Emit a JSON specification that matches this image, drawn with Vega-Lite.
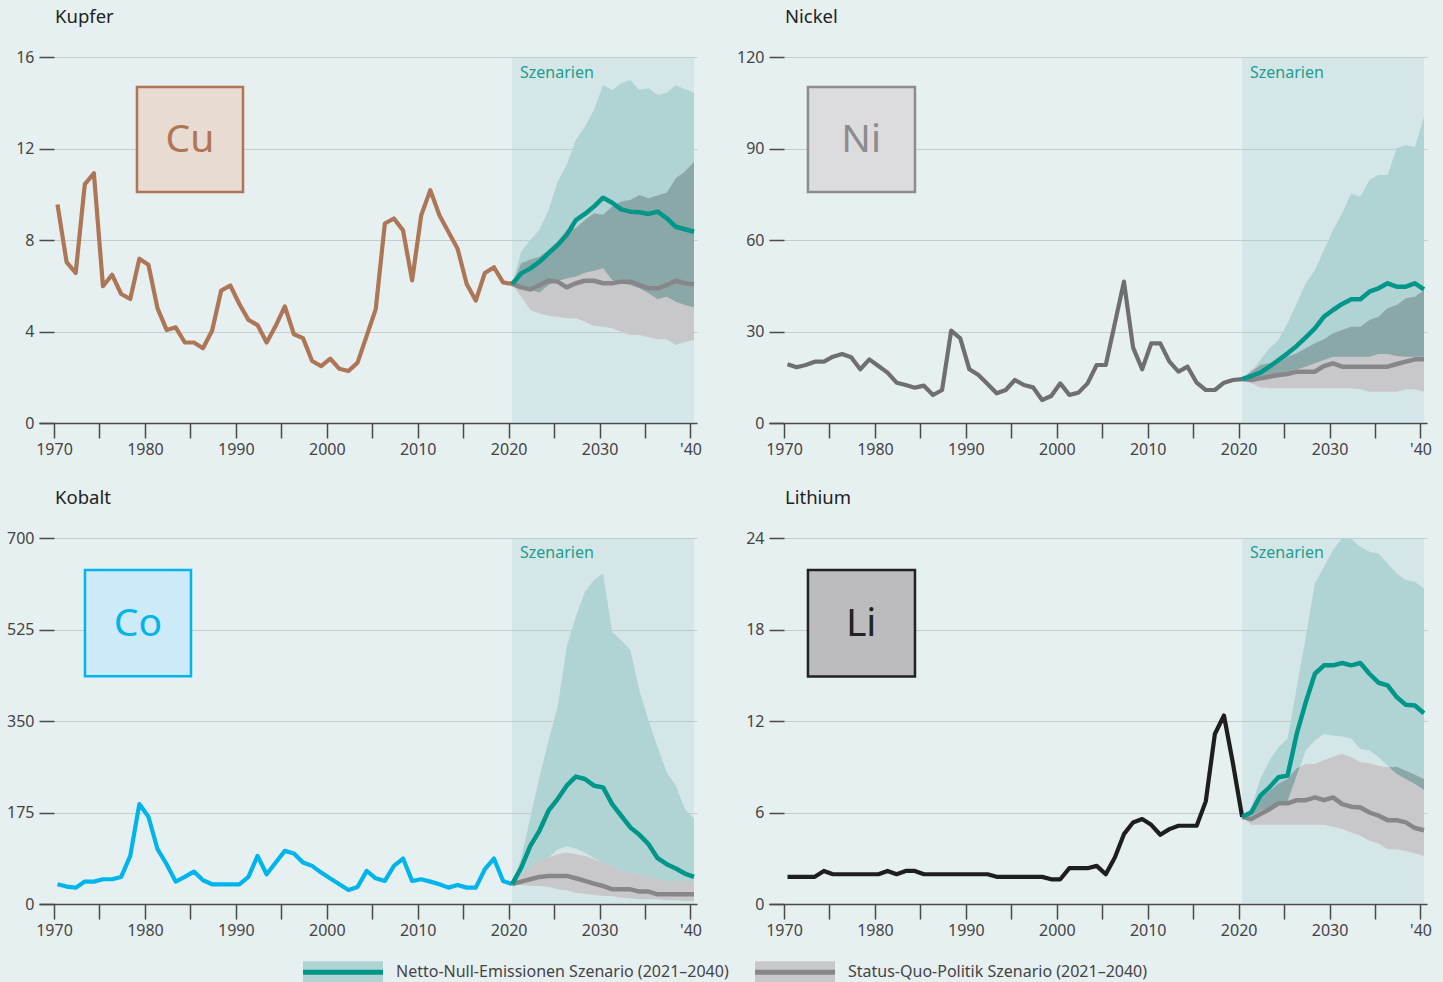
{
  "$schema": "https://vega.github.io/schema/vega-lite/v6.json",
  "background": "#e7f0f1",
  "padding": {"left": 6, "top": 7, "right": 13, "bottom": 0},
  "autosize": {"type": "pad"},
  "bounds": "flush",
  "spacing": {"row": 115, "column": 72},
  "columns": 2,
  "config": {
    "view": {"stroke": null},
    "font": "Noto Sans",
    "axis": {"labelFont": "Noto Sans", "labelFontSize": 16, "labelColor": "#444", "gridColor": "#c5cccd", "gridWidth": 1.2, "tickColor": "#4a4a4a", "tickWidth": 1.5, "domainColor": "#4a4a4a", "domainWidth": 1.5},
    "title": {"font": "Noto Sans", "fontSize": 18.5, "fontWeight": "normal", "color": "#222"},
    "legend": {"labelFont": "Noto Sans"},
    "text": {"font": "Noto Sans"}
  },
  "datasets": {
    "hist": [
      {"m":"Cu","t":1970,"v":9.55},{"m":"Cu","t":1971,"v":7.03},{"m":"Cu","t":1972,"v":6.56},{"m":"Cu","t":1973,"v":10.43},{"m":"Cu","t":1974,"v":10.92},{"m":"Cu","t":1975,"v":5.98},{"m":"Cu","t":1976,"v":6.48},{"m":"Cu","t":1977,"v":5.64},{"m":"Cu","t":1978,"v":5.42},{"m":"Cu","t":1979,"v":7.18},
      {"m":"Cu","t":1980,"v":6.92},{"m":"Cu","t":1981,"v":5.01},{"m":"Cu","t":1982,"v":4.07},{"m":"Cu","t":1983,"v":4.18},{"m":"Cu","t":1984,"v":3.52},{"m":"Cu","t":1985,"v":3.52},{"m":"Cu","t":1986,"v":3.27},{"m":"Cu","t":1987,"v":4.03},{"m":"Cu","t":1988,"v":5.79},{"m":"Cu","t":1989,"v":6.01},
      {"m":"Cu","t":1990,"v":5.2},{"m":"Cu","t":1991,"v":4.51},{"m":"Cu","t":1992,"v":4.28},{"m":"Cu","t":1993,"v":3.52},{"m":"Cu","t":1994,"v":4.25},{"m":"Cu","t":1995,"v":5.1},{"m":"Cu","t":1996,"v":3.88},{"m":"Cu","t":1997,"v":3.71},{"m":"Cu","t":1998,"v":2.71},{"m":"Cu","t":1999,"v":2.49},
      {"m":"Cu","t":2000,"v":2.81},{"m":"Cu","t":2001,"v":2.37},{"m":"Cu","t":2002,"v":2.27},{"m":"Cu","t":2003,"v":2.64},{"m":"Cu","t":2004,"v":3.81},{"m":"Cu","t":2005,"v":4.98},{"m":"Cu","t":2006,"v":8.72},{"m":"Cu","t":2007,"v":8.94},{"m":"Cu","t":2008,"v":8.42},{"m":"Cu","t":2009,"v":6.23},
      {"m":"Cu","t":2010,"v":9.08},{"m":"Cu","t":2011,"v":10.18},{"m":"Cu","t":2012,"v":9.08},{"m":"Cu","t":2013,"v":8.35},{"m":"Cu","t":2014,"v":7.62},{"m":"Cu","t":2015,"v":6.08},{"m":"Cu","t":2016,"v":5.35},{"m":"Cu","t":2017,"v":6.56},{"m":"Cu","t":2018,"v":6.81},{"m":"Cu","t":2019,"v":6.15},{"m":"Cu","t":2020,"v":6.08},
      {"m":"Ni","t":1970,"v":19.23},{"m":"Ni","t":1971,"v":18.25},{"m":"Ni","t":1972,"v":19.02},{"m":"Ni","t":1973,"v":20.11},{"m":"Ni","t":1974,"v":20.11},{"m":"Ni","t":1975,"v":21.75},{"m":"Ni","t":1976,"v":22.62},{"m":"Ni","t":1977,"v":21.53},{"m":"Ni","t":1978,"v":17.6},{"m":"Ni","t":1979,"v":20.87},
      {"m":"Ni","t":1980,"v":18.69},{"m":"Ni","t":1981,"v":16.5},{"m":"Ni","t":1982,"v":13.22},{"m":"Ni","t":1983,"v":12.46},{"m":"Ni","t":1984,"v":11.59},{"m":"Ni","t":1985,"v":12.24},{"m":"Ni","t":1986,"v":9.18},{"m":"Ni","t":1987,"v":10.82},{"m":"Ni","t":1988,"v":30.27},{"m":"Ni","t":1989,"v":27.76},
      {"m":"Ni","t":1990,"v":17.6},{"m":"Ni","t":1991,"v":15.74},{"m":"Ni","t":1992,"v":12.79},{"m":"Ni","t":1993,"v":9.73},{"m":"Ni","t":1994,"v":10.82},{"m":"Ni","t":1995,"v":14.1},{"m":"Ni","t":1996,"v":12.46},{"m":"Ni","t":1997,"v":11.69},{"m":"Ni","t":1998,"v":7.54},{"m":"Ni","t":1999,"v":8.85},
      {"m":"Ni","t":2000,"v":13.0},{"m":"Ni","t":2001,"v":9.18},{"m":"Ni","t":2002,"v":9.95},{"m":"Ni","t":2003,"v":13.0},{"m":"Ni","t":2004,"v":19.02},{"m":"Ni","t":2005,"v":19.02},{"m":"Ni","t":2006,"v":32.67},{"m":"Ni","t":2007,"v":46.34},{"m":"Ni","t":2008,"v":24.81},{"m":"Ni","t":2009,"v":17.6},
      {"m":"Ni","t":2010,"v":26.12},{"m":"Ni","t":2011,"v":26.12},{"m":"Ni","t":2012,"v":20.11},{"m":"Ni","t":2013,"v":16.83},{"m":"Ni","t":2014,"v":18.47},{"m":"Ni","t":2015,"v":13.22},{"m":"Ni","t":2016,"v":10.82},{"m":"Ni","t":2017,"v":10.82},{"m":"Ni","t":2018,"v":13.22},{"m":"Ni","t":2019,"v":14.1},{"m":"Ni","t":2020,"v":14.4},
      {"m":"Co","t":1970,"v":37.7},{"m":"Co","t":1971,"v":33.3},{"m":"Co","t":1972,"v":31.3},{"m":"Co","t":1973,"v":42.8},{"m":"Co","t":1974,"v":42.8},{"m":"Co","t":1975,"v":47.3},{"m":"Co","t":1976,"v":47.3},{"m":"Co","t":1977,"v":51.8},{"m":"Co","t":1978,"v":92.1},{"m":"Co","t":1979,"v":191.1},
      {"m":"Co","t":1980,"v":166.9},{"m":"Co","t":1981,"v":104.8},{"m":"Co","t":1982,"v":76.1},{"m":"Co","t":1983,"v":42.8},{"m":"Co","t":1984,"v":51.8},{"m":"Co","t":1985,"v":62.0},{"m":"Co","t":1986,"v":45.4},{"m":"Co","t":1987,"v":37.7},{"m":"Co","t":1988,"v":37.7},{"m":"Co","t":1989,"v":37.7},
      {"m":"Co","t":1990,"v":37.7},{"m":"Co","t":1991,"v":51.8},{"m":"Co","t":1992,"v":92.1},{"m":"Co","t":1993,"v":56.9},{"m":"Co","t":1994,"v":79.3},{"m":"Co","t":1995,"v":101.6},{"m":"Co","t":1996,"v":96.5},{"m":"Co","t":1997,"v":79.3},{"m":"Co","t":1998,"v":72.9},{"m":"Co","t":1999,"v":60.1},
      {"m":"Co","t":2000,"v":48.6},{"m":"Co","t":2001,"v":37.7},{"m":"Co","t":2002,"v":26.9},{"m":"Co","t":2003,"v":32.6},{"m":"Co","t":2004,"v":63.3},{"m":"Co","t":2005,"v":49.2},{"m":"Co","t":2006,"v":44.1},{"m":"Co","t":2007,"v":72.9},{"m":"Co","t":2008,"v":86.9},{"m":"Co","t":2009,"v":44.1},
      {"m":"Co","t":2010,"v":47.3},{"m":"Co","t":2011,"v":42.8},{"m":"Co","t":2012,"v":37.7},{"m":"Co","t":2013,"v":31.3},{"m":"Co","t":2014,"v":36.4},{"m":"Co","t":2015,"v":31.3},{"m":"Co","t":2016,"v":31.3},{"m":"Co","t":2017,"v":66.5},{"m":"Co","t":2018,"v":86.9},{"m":"Co","t":2019,"v":44.1},{"m":"Co","t":2020,"v":38.0},
      {"m":"Li","t":1970,"v":1.78},{"m":"Li","t":1971,"v":1.78},{"m":"Li","t":1972,"v":1.78},{"m":"Li","t":1973,"v":1.78},{"m":"Li","t":1974,"v":2.17},{"m":"Li","t":1975,"v":1.95},{"m":"Li","t":1976,"v":1.95},{"m":"Li","t":1977,"v":1.95},{"m":"Li","t":1978,"v":1.95},{"m":"Li","t":1979,"v":1.95},
      {"m":"Li","t":1980,"v":1.95},{"m":"Li","t":1981,"v":2.17},{"m":"Li","t":1982,"v":1.95},{"m":"Li","t":1983,"v":2.17},{"m":"Li","t":1984,"v":2.17},{"m":"Li","t":1985,"v":1.95},{"m":"Li","t":1986,"v":1.95},{"m":"Li","t":1987,"v":1.95},{"m":"Li","t":1988,"v":1.95},{"m":"Li","t":1989,"v":1.95},
      {"m":"Li","t":1990,"v":1.95},{"m":"Li","t":1991,"v":1.95},{"m":"Li","t":1992,"v":1.95},{"m":"Li","t":1993,"v":1.78},{"m":"Li","t":1994,"v":1.78},{"m":"Li","t":1995,"v":1.78},{"m":"Li","t":1996,"v":1.78},{"m":"Li","t":1997,"v":1.78},{"m":"Li","t":1998,"v":1.78},{"m":"Li","t":1999,"v":1.62},
      {"m":"Li","t":2000,"v":1.62},{"m":"Li","t":2001,"v":2.35},{"m":"Li","t":2002,"v":2.35},{"m":"Li","t":2003,"v":2.35},{"m":"Li","t":2004,"v":2.5},{"m":"Li","t":2005,"v":1.95},{"m":"Li","t":2006,"v":3.05},{"m":"Li","t":2007,"v":4.58},{"m":"Li","t":2008,"v":5.35},{"m":"Li","t":2009,"v":5.57},
      {"m":"Li","t":2010,"v":5.19},{"m":"Li","t":2011,"v":4.54},{"m":"Li","t":2012,"v":4.91},{"m":"Li","t":2013,"v":5.13},{"m":"Li","t":2014,"v":5.13},{"m":"Li","t":2015,"v":5.13},{"m":"Li","t":2016,"v":6.73},{"m":"Li","t":2017,"v":11.15},{"m":"Li","t":2018,"v":12.36},{"m":"Li","t":2019,"v":9.18},{"m":"Li","t":2020,"v":5.72}
    ],
    "scen": [
      {"m":"Cu","t":2020,"nzl":6.08,"nzh":6.08,"nzm":6.08,"sql":6.08,"sqh":6.08,"sqm":6.08},
      {"m":"Cu","t":2021,"nzl":5.9,"nzh":7.49,"nzm":6.54,"sql":5.52,"sqh":6.98,"sqm":5.93},
      {"m":"Cu","t":2022,"nzl":5.81,"nzh":8.0,"nzm":6.76,"sql":4.94,"sqh":7.15,"sqm":5.84},
      {"m":"Cu","t":2023,"nzl":5.7,"nzh":8.44,"nzm":7.04,"sql":4.79,"sqh":7.27,"sqm":6.03},
      {"m":"Cu","t":2024,"nzl":6.03,"nzh":9.31,"nzm":7.42,"sql":4.69,"sqh":7.56,"sqm":6.22},
      {"m":"Cu","t":2025,"nzl":6.22,"nzh":10.55,"nzm":7.78,"sql":4.65,"sqh":7.93,"sqm":6.18},
      {"m":"Cu","t":2026,"nzl":6.32,"nzh":11.28,"nzm":8.22,"sql":4.58,"sqh":8.44,"sqm":5.93},
      {"m":"Cu","t":2027,"nzl":6.4,"nzh":12.37,"nzm":8.87,"sql":4.58,"sqh":8.51,"sqm":6.11},
      {"m":"Cu","t":2028,"nzl":6.57,"nzh":12.95,"nzm":9.14,"sql":4.43,"sqh":8.87,"sqm":6.22},
      {"m":"Cu","t":2029,"nzl":6.66,"nzh":13.68,"nzm":9.46,"sql":4.24,"sqh":9.17,"sqm":6.22},
      {"m":"Cu","t":2030,"nzl":6.76,"nzh":14.78,"nzm":9.85,"sql":4.21,"sqh":9.1,"sqm":6.11},
      {"m":"Cu","t":2031,"nzl":6.25,"nzh":14.56,"nzm":9.63,"sql":4.14,"sqh":9.46,"sqm":6.11},
      {"m":"Cu","t":2032,"nzl":6.11,"nzh":14.85,"nzm":9.34,"sql":3.99,"sqh":9.68,"sqm":6.18},
      {"m":"Cu","t":2033,"nzl":6.03,"nzh":14.99,"nzm":9.24,"sql":3.85,"sqh":9.75,"sqm":6.18},
      {"m":"Cu","t":2034,"nzl":5.89,"nzh":14.56,"nzm":9.21,"sql":3.85,"sqh":9.97,"sqm":6.03},
      {"m":"Cu","t":2035,"nzl":5.67,"nzh":14.63,"nzm":9.14,"sql":3.75,"sqh":9.82,"sqm":5.89},
      {"m":"Cu","t":2036,"nzl":5.41,"nzh":14.34,"nzm":9.24,"sql":3.66,"sqh":9.94,"sqm":5.89},
      {"m":"Cu","t":2037,"nzl":5.52,"nzh":14.44,"nzm":8.95,"sql":3.66,"sqh":10.07,"sqm":6.03},
      {"m":"Cu","t":2038,"nzl":5.3,"nzh":14.78,"nzm":8.58,"sql":3.41,"sqh":10.7,"sqm":6.22},
      {"m":"Cu","t":2039,"nzl":5.16,"nzh":14.59,"nzm":8.47,"sql":3.54,"sqh":10.99,"sqm":6.11},
      {"m":"Cu","t":2040,"nzl":5.06,"nzh":14.44,"nzm":8.36,"sql":3.63,"sqh":11.42,"sqm":6.06},
      {"m":"Ni","t":2020,"nzl":14.4,"nzh":14.4,"nzm":14.4,"sql":14.4,"sqh":14.4,"sqm":14.4},
      {"m":"Ni","t":2021,"nzl":14.64,"nzh":16.83,"nzm":15.41,"sql":13.0,"sqh":17.38,"sqm":14.1},
      {"m":"Ni","t":2022,"nzl":14.32,"nzh":20.66,"nzm":16.5,"sql":11.69,"sqh":19.02,"sqm":14.64},
      {"m":"Ni","t":2023,"nzl":14.64,"nzh":24.48,"nzm":18.47,"sql":11.37,"sqh":19.56,"sqm":15.19},
      {"m":"Ni","t":2024,"nzl":15.74,"nzh":27.21,"nzm":20.66,"sql":11.37,"sqh":20.11,"sqm":15.74},
      {"m":"Ni","t":2025,"nzl":16.83,"nzh":32.68,"nzm":22.84,"sql":11.37,"sqh":21.75,"sqm":16.07},
      {"m":"Ni","t":2026,"nzl":17.6,"nzh":39.23,"nzm":25.25,"sql":11.37,"sqh":22.84,"sqm":16.83},
      {"m":"Ni","t":2027,"nzl":18.47,"nzh":45.79,"nzm":28.09,"sql":11.37,"sqh":24.48,"sqm":16.83},
      {"m":"Ni","t":2028,"nzl":19.56,"nzh":50.16,"nzm":31.04,"sql":11.37,"sqh":26.12,"sqm":16.83},
      {"m":"Ni","t":2029,"nzl":20.66,"nzh":56.72,"nzm":34.86,"sql":11.37,"sqh":27.43,"sqm":18.69},
      {"m":"Ni","t":2030,"nzl":21.75,"nzh":63.28,"nzm":37.05,"sql":11.37,"sqh":29.4,"sqm":19.56},
      {"m":"Ni","t":2031,"nzl":21.75,"nzh":68.74,"nzm":39.02,"sql":11.37,"sqh":30.49,"sqm":18.47},
      {"m":"Ni","t":2032,"nzl":21.75,"nzh":75.3,"nzm":40.55,"sql":11.37,"sqh":31.59,"sqm":18.47},
      {"m":"Ni","t":2033,"nzl":21.75,"nzh":74.21,"nzm":40.55,"sql":11.04,"sqh":31.59,"sqm":18.47},
      {"m":"Ni","t":2034,"nzl":21.75,"nzh":79.67,"nzm":43.06,"sql":10.27,"sqh":33.77,"sqm":18.47},
      {"m":"Ni","t":2035,"nzl":22.62,"nzh":81.31,"nzm":44.15,"sql":10.27,"sqh":34.86,"sqm":18.47},
      {"m":"Ni","t":2036,"nzl":22.62,"nzh":81.31,"nzm":45.79,"sql":10.27,"sqh":37.6,"sqm":18.47},
      {"m":"Ni","t":2037,"nzl":21.97,"nzh":90.05,"nzm":44.7,"sql":10.27,"sqh":38.69,"sqm":19.34},
      {"m":"Ni","t":2038,"nzl":21.75,"nzh":91.15,"nzm":44.7,"sql":11.04,"sqh":40.87,"sqm":20.11},
      {"m":"Ni","t":2039,"nzl":21.75,"nzh":90.38,"nzm":45.79,"sql":11.04,"sqh":41.42,"sqm":20.87},
      {"m":"Ni","t":2040,"nzl":21.75,"nzh":100.44,"nzm":43.83,"sql":10.27,"sqh":43.61,"sqm":20.87},
      {"m":"Co","t":2020,"nzl":38,"nzh":38,"nzm":38,"sql":38,"sqh":38,"sqm":38},
      {"m":"Co","t":2021,"nzl":56,"nzh":88.9,"nzm":69.7,"sql":36.4,"sqh":56.9,"sqm":42.8},
      {"m":"Co","t":2022,"nzl":69,"nzh":165.6,"nzm":111.2,"sql":34.5,"sqh":69.7,"sqm":47.3},
      {"m":"Co","t":2023,"nzl":82,"nzh":242.3,"nzm":140.0,"sql":34.5,"sqh":82.5,"sqm":51.8},
      {"m":"Co","t":2024,"nzl":88.5,"nzh":312.6,"nzm":178.4,"sql":32.6,"sqh":88.9,"sqm":53.7},
      {"m":"Co","t":2025,"nzl":104,"nzh":376.5,"nzm":200.7,"sql":28.1,"sqh":95.2,"sqm":53.7},
      {"m":"Co","t":2026,"nzl":110,"nzh":491.6,"nzm":226.3,"sql":26.2,"sqh":98.4,"sqm":53.7},
      {"m":"Co","t":2027,"nzl":106,"nzh":549.2,"nzm":243.6,"sql":21.7,"sqh":95.2,"sqm":49.2},
      {"m":"Co","t":2028,"nzl":98,"nzh":597.1,"nzm":239.1,"sql":19.8,"sqh":92.1,"sqm":44.1},
      {"m":"Co","t":2029,"nzl":88,"nzh":619.5,"nzm":226.3,"sql":17.3,"sqh":85.6,"sqm":39.0},
      {"m":"Co","t":2030,"nzl":79,"nzh":632.3,"nzm":223.1,"sql":15.3,"sqh":79.3,"sqm":34.5},
      {"m":"Co","t":2031,"nzl":72.5,"nzh":520.4,"nzm":191.1,"sql":15.3,"sqh":72.9,"sqm":28.1},
      {"m":"Co","t":2032,"nzl":63,"nzh":504.4,"nzm":168.8,"sql":12.1,"sqh":63.3,"sqm":28.1},
      {"m":"Co","t":2033,"nzl":59.7,"nzh":485.2,"nzm":146.4,"sql":10.9,"sqh":60.1,"sqm":28.1},
      {"m":"Co","t":2034,"nzl":55.2,"nzh":408.5,"nzm":132.3,"sql":9.0,"sqh":55.6,"sqm":23.7},
      {"m":"Co","t":2035,"nzl":53.3,"nzh":351.0,"nzm":114.4,"sql":9.0,"sqh":53.7,"sqm":23.7},
      {"m":"Co","t":2036,"nzl":47,"nzh":299.8,"nzm":87.6,"sql":9.0,"sqh":47.3,"sqm":18.5},
      {"m":"Co","t":2037,"nzl":43.8,"nzh":251.9,"nzm":76.1,"sql":7.0,"sqh":44.1,"sqm":18.5},
      {"m":"Co","t":2038,"nzl":43.8,"nzh":226.3,"nzm":67.8,"sql":7.0,"sqh":44.1,"sqm":18.5},
      {"m":"Co","t":2039,"nzl":43.8,"nzh":181.6,"nzm":58.2,"sql":5.8,"sqh":44.1,"sqm":18.5},
      {"m":"Co","t":2040,"nzl":43.8,"nzh":162.4,"nzm":51.8,"sql":5.8,"sqh":44.1,"sqm":18.5},
      {"m":"Li","t":2020,"nzl":5.72,"nzh":5.72,"nzm":5.72,"sql":5.72,"sqh":5.72,"sqm":5.72},
      {"m":"Li","t":2021,"nzl":5.79,"nzh":6.33,"nzm":6.0,"sql":5.19,"sqh":6.11,"sqm":5.57},
      {"m":"Li","t":2022,"nzl":6.11,"nzh":8.2,"nzm":7.1,"sql":5.19,"sqh":6.9,"sqm":5.9},
      {"m":"Li","t":2023,"nzl":6.33,"nzh":9.4,"nzm":7.65,"sql":5.19,"sqh":7.4,"sqm":6.22},
      {"m":"Li","t":2024,"nzl":6.6,"nzh":10.28,"nzm":8.31,"sql":5.19,"sqh":7.9,"sqm":6.6},
      {"m":"Li","t":2025,"nzl":6.77,"nzh":10.83,"nzm":8.42,"sql":5.19,"sqh":8.2,"sqm":6.6},
      {"m":"Li","t":2026,"nzl":8.42,"nzh":14.22,"nzm":11.15,"sql":5.19,"sqh":8.9,"sqm":6.81},
      {"m":"Li","t":2027,"nzl":10.06,"nzh":17.51,"nzm":13.24,"sql":5.19,"sqh":9.18,"sqm":6.81},
      {"m":"Li","t":2028,"nzl":10.72,"nzh":21.02,"nzm":15.1,"sql":5.19,"sqh":9.18,"sqm":6.99},
      {"m":"Li","t":2029,"nzl":11.15,"nzh":22.11,"nzm":15.65,"sql":5.19,"sqh":9.45,"sqm":6.81},
      {"m":"Li","t":2030,"nzl":11.05,"nzh":23.21,"nzm":15.65,"sql":5.06,"sqh":9.66,"sqm":6.99},
      {"m":"Li","t":2031,"nzl":10.98,"nzh":24.0,"nzm":15.8,"sql":4.91,"sqh":9.84,"sqm":6.55},
      {"m":"Li","t":2032,"nzl":10.83,"nzh":23.91,"nzm":15.65,"sql":4.69,"sqh":9.62,"sqm":6.38},
      {"m":"Li","t":2033,"nzl":10.17,"nzh":23.43,"nzm":15.8,"sql":4.47,"sqh":9.29,"sqm":6.33},
      {"m":"Li","t":2034,"nzl":10.06,"nzh":23.1,"nzm":15.1,"sql":4.14,"sqh":9.23,"sqm":6.0},
      {"m":"Li","t":2035,"nzl":9.62,"nzh":22.99,"nzm":14.51,"sql":3.97,"sqh":9.07,"sqm":5.79},
      {"m":"Li","t":2036,"nzl":9.07,"nzh":22.33,"nzm":14.33,"sql":3.59,"sqh":8.96,"sqm":5.5},
      {"m":"Li","t":2037,"nzl":8.53,"nzh":21.68,"nzm":13.57,"sql":3.59,"sqh":9.0,"sqm":5.5},
      {"m":"Li","t":2038,"nzl":8.2,"nzh":21.24,"nzm":13.06,"sql":3.48,"sqh":8.74,"sqm":5.35},
      {"m":"Li","t":2039,"nzl":7.87,"nzh":21.13,"nzm":13.02,"sql":3.31,"sqh":8.48,"sqm":4.98},
      {"m":"Li","t":2040,"nzl":7.47,"nzh":20.69,"nzm":12.51,"sql":3.16,"sqh":8.2,"sqm":4.84}
    ],
    "ov": [
      {"m":"Cu","s":1,"t":2020,"lo":6.08,"hi":6.08},{"m":"Cu","s":1,"t":2021,"lo":5.9,"hi":6.98},{"m":"Cu","s":1,"t":2022,"lo":5.81,"hi":7.15},{"m":"Cu","s":1,"t":2023,"lo":5.7,"hi":7.27},{"m":"Cu","s":1,"t":2024,"lo":6.03,"hi":7.56},{"m":"Cu","s":1,"t":2025,"lo":6.22,"hi":7.93},{"m":"Cu","s":1,"t":2026,"lo":6.32,"hi":8.44},
      {"m":"Cu","s":1,"t":2027,"lo":6.4,"hi":8.51},{"m":"Cu","s":1,"t":2028,"lo":6.57,"hi":8.87},{"m":"Cu","s":1,"t":2029,"lo":6.66,"hi":9.17},{"m":"Cu","s":1,"t":2030,"lo":6.76,"hi":9.1},{"m":"Cu","s":1,"t":2031,"lo":6.25,"hi":9.46},{"m":"Cu","s":1,"t":2032,"lo":6.11,"hi":9.68},{"m":"Cu","s":1,"t":2033,"lo":6.03,"hi":9.75},
      {"m":"Cu","s":1,"t":2034,"lo":5.89,"hi":9.97},{"m":"Cu","s":1,"t":2035,"lo":5.67,"hi":9.82},{"m":"Cu","s":1,"t":2036,"lo":5.41,"hi":9.94},{"m":"Cu","s":1,"t":2037,"lo":5.52,"hi":10.07},{"m":"Cu","s":1,"t":2038,"lo":5.3,"hi":10.7},{"m":"Cu","s":1,"t":2039,"lo":5.16,"hi":10.99},{"m":"Cu","s":1,"t":2040,"lo":5.06,"hi":11.42},
      {"m":"Ni","s":1,"t":2020,"lo":14.4,"hi":14.4},{"m":"Ni","s":1,"t":2021,"lo":14.64,"hi":16.83},{"m":"Ni","s":1,"t":2022,"lo":14.32,"hi":19.02},{"m":"Ni","s":1,"t":2023,"lo":14.64,"hi":19.56},{"m":"Ni","s":1,"t":2024,"lo":15.74,"hi":20.11},{"m":"Ni","s":1,"t":2025,"lo":16.83,"hi":21.75},{"m":"Ni","s":1,"t":2026,"lo":17.6,"hi":22.84},
      {"m":"Ni","s":1,"t":2027,"lo":18.47,"hi":24.48},{"m":"Ni","s":1,"t":2028,"lo":19.56,"hi":26.12},{"m":"Ni","s":1,"t":2029,"lo":20.66,"hi":27.43},{"m":"Ni","s":1,"t":2030,"lo":21.75,"hi":29.4},{"m":"Ni","s":1,"t":2031,"lo":21.75,"hi":30.49},{"m":"Ni","s":1,"t":2032,"lo":21.75,"hi":31.59},{"m":"Ni","s":1,"t":2033,"lo":21.75,"hi":31.59},
      {"m":"Ni","s":1,"t":2034,"lo":21.75,"hi":33.77},{"m":"Ni","s":1,"t":2035,"lo":22.62,"hi":34.86},{"m":"Ni","s":1,"t":2036,"lo":22.62,"hi":37.6},{"m":"Ni","s":1,"t":2037,"lo":21.97,"hi":38.69},{"m":"Ni","s":1,"t":2038,"lo":21.75,"hi":40.87},{"m":"Ni","s":1,"t":2039,"lo":21.75,"hi":41.42},{"m":"Ni","s":1,"t":2040,"lo":21.75,"hi":43.61},
      {"m":"Li","s":1,"t":2020,"lo":5.72,"hi":5.72},{"m":"Li","s":1,"t":2021,"lo":5.79,"hi":6.11},{"m":"Li","s":1,"t":2022,"lo":6.11,"hi":6.9},{"m":"Li","s":1,"t":2023,"lo":6.33,"hi":7.4},{"m":"Li","s":1,"t":2024,"lo":6.6,"hi":7.9},{"m":"Li","s":1,"t":2025,"lo":6.77,"hi":8.2},{"m":"Li","s":1,"t":2026,"lo":8.42,"hi":8.9},{"m":"Li","s":1,"t":2026.35,"lo":9.0,"hi":9.0},
      {"m":"Li","s":2,"t":2036.19,"lo":8.97,"hi":8.97},{"m":"Li","s":2,"t":2037,"lo":8.53,"hi":9.0},{"m":"Li","s":2,"t":2038,"lo":8.2,"hi":8.74},{"m":"Li","s":2,"t":2039,"lo":7.87,"hi":8.48},{"m":"Li","s":2,"t":2040,"lo":7.47,"hi":8.2}
    ]
  },
  "concat": [
    {
      "width": 658, "height": 366,
      "title": {"text": "Kupfer", "anchor": "start", "frame": "group", "dx": 16, "offset": 8, "baseline": "alphabetic"},
      "layer": [
        {"data": {"values": [{}]}, "mark": {"type": "rect", "fill": "#a9d1cf", "opacity": 0.3},
         "encoding": {"x": {"datum": 2020, "type": "quantitative", "scale": {"domain": [1967.965, 2040.33], "nice": false, "zero": false},
           "axis": {"title": null, "values": [1970,1975,1980,1985,1990,1995,2000,2005,2010,2015,2020,2025,2030,2035,2040], "labelExpr": "datum.value === 2040 ? \"'40\" : (datum.value % 10 === 0 ? '' + datum.value : '')", "tickSize": 15, "tickOffset": -3.5, "labelPadding": 3, "grid": false, "labelFlush": false, "labelOverlap": false}},
           "x2": {"datum": 2040}}},
        {"data": {"name": "scen"}, "transform": [{"filter": "datum.m == 'Cu'"}], "mark": {"type": "area", "opacity": 1},
         "encoding": {"x": {"field": "t", "type": "quantitative"},
           "y": {"field": "nzl", "type": "quantitative", "scale": {"domain": [0, 16], "nice": false, "zero": false},
             "axis": {"title": null, "values": [0,4,8,12,16], "tickSize": -15, "labelPadding": 20, "domain": false, "grid": true, "labelFlush": false}},
           "y2": {"field": "nzh"},
           "fill": {"datum": "Netto-Null-Emissionen Szenario (2021–2040)", "type": "nominal",
             "scale": {"domain": ["Netto-Null-Emissionen Szenario (2021–2040)", "Status-Quo-Politik Szenario (2021–2040)"], "range": ["#b0d4d4", "#c8c8ca"]},
             "legend": {"orient": "none", "legendX": 291.5, "legendY": 902.5, "direction": "horizontal", "title": null, "padding": 0,
               "symbolType": "M-4,-1.1H4V1.1H-4Z", "symbolSize": 400, "symbolStrokeWidth": 5, "symbolStrokeColor": "transparent", "symbolOpacity": 1,
               "labelFontSize": 16, "labelColor": "#444", "labelLimit": 0, "labelOffset": 40.5, "columnPadding": 15}}}},
        {"data": {"name": "scen"}, "transform": [{"filter": "datum.m == 'Cu'"}], "mark": {"type": "area", "opacity": 1},
         "encoding": {"x": {"field": "t", "type": "quantitative"}, "y": {"field": "sql", "type": "quantitative"}, "y2": {"field": "sqh"},
           "fill": {"datum": "Status-Quo-Politik Szenario (2021–2040)", "type": "nominal"}}},
        {"data": {"name": "ov"}, "transform": [{"filter": "datum.m == 'Cu'"}], "mark": {"type": "area", "fill": "#8ba8a8", "opacity": 1},
         "encoding": {"x": {"field": "t", "type": "quantitative"}, "y": {"field": "lo", "type": "quantitative"}, "y2": {"field": "hi"}, "detail": {"field": "s", "type": "nominal"}}},
        {"data": {"name": "hist"}, "transform": [{"filter": "datum.m == 'Cu'"}], "mark": {"type": "line", "stroke": "#ad7656", "strokeWidth": 4.2, "strokeJoin": "round"},
         "encoding": {"x": {"field": "t", "type": "quantitative"}, "y": {"field": "v", "type": "quantitative"}}},
        {"data": {"name": "scen"}, "transform": [{"filter": "datum.m == 'Cu'"}], "mark": {"type": "line", "strokeWidth": 4.5, "strokeJoin": "round"},
         "encoding": {"x": {"field": "t", "type": "quantitative"}, "y": {"field": "sqm", "type": "quantitative"},
           "stroke": {"datum": "sq", "type": "nominal", "scale": {"domain": ["nz", "sq"], "range": ["#00968a", "#87878a"]},
             "legend": {"orient": "none", "legendX": 291.5, "legendY": 902.5, "direction": "horizontal", "title": null, "padding": 0,
               "symbolType": "M-4,0H4", "symbolSize": 400, "symbolStrokeWidth": 5, "symbolOpacity": 1,
               "labelFontSize": 16, "labelColor": "#444", "labelLimit": 0, "labelOffset": 40.5, "columnPadding": 15, "labelOpacity": 0,
               "labelExpr": "datum.value == 'nz' ? 'Netto-Null-Emissionen Szenario (2021–2040)' : 'Status-Quo-Politik Szenario (2021–2040)'"}}}},
        {"data": {"name": "scen"}, "transform": [{"filter": "datum.m == 'Cu'"}], "mark": {"type": "line", "strokeWidth": 4.5, "strokeJoin": "round"},
         "encoding": {"x": {"field": "t", "type": "quantitative"}, "y": {"field": "nzm", "type": "quantitative"}, "stroke": {"datum": "nz", "type": "nominal"}}},
        {"data": {"values": [{}]}, "mark": {"type": "rect", "fill": "#e8dbd1", "stroke": "#b07556", "strokeWidth": 2.5},
         "encoding": {"x": {"datum": 1978.74, "type": "quantitative"}, "x2": {"datum": 1990.4}, "y": {"datum": 14.69, "type": "quantitative"}, "y2": {"datum": 10.1}}},
        {"data": {"values": [{}]}, "mark": {"type": "text", "text": "Cu", "fontSize": 39, "color": "#b07556", "align": "center", "baseline": "middle"},
         "encoding": {"x": {"datum": 1984.57, "type": "quantitative"}, "y": {"datum": 12.39, "type": "quantitative"}}},
        {"data": {"values": [{}]}, "mark": {"type": "text", "text": "Szenarien", "fontSize": 16, "color": "#1d9d8e", "align": "left", "baseline": "middle"},
         "encoding": {"x": {"datum": 2020.86, "type": "quantitative"}, "y": {"datum": 15.3, "type": "quantitative"}}}
      ]
    },
    {
      "width": 658, "height": 366,
      "title": {"text": "Nickel", "anchor": "start", "frame": "group", "dx": 16, "offset": 8, "baseline": "alphabetic"},
      "layer": [
        {"data": {"values": [{}]}, "mark": {"type": "rect", "fill": "#a9d1cf", "opacity": 0.3},
         "encoding": {"x": {"datum": 2020, "type": "quantitative", "scale": {"domain": [1967.965, 2040.33], "nice": false, "zero": false},
           "axis": {"title": null, "values": [1970,1975,1980,1985,1990,1995,2000,2005,2010,2015,2020,2025,2030,2035,2040], "labelExpr": "datum.value === 2040 ? \"'40\" : (datum.value % 10 === 0 ? '' + datum.value : '')", "tickSize": 15, "tickOffset": -3.5, "labelPadding": 3, "grid": false, "labelFlush": false, "labelOverlap": false}},
           "x2": {"datum": 2040}}},
        {"data": {"name": "scen"}, "transform": [{"filter": "datum.m == 'Ni'"}], "mark": {"type": "area", "fill": "#b0d4d4", "opacity": 1},
         "encoding": {"x": {"field": "t", "type": "quantitative"},
           "y": {"field": "nzl", "type": "quantitative", "scale": {"domain": [0, 120], "nice": false, "zero": false},
             "axis": {"title": null, "values": [0,30,60,90,120], "tickSize": -15, "labelPadding": 20, "domain": false, "grid": true, "labelFlush": false}},
           "y2": {"field": "nzh"}}},
        {"data": {"name": "scen"}, "transform": [{"filter": "datum.m == 'Ni'"}], "mark": {"type": "area", "fill": "#c8c8ca", "opacity": 1},
         "encoding": {"x": {"field": "t", "type": "quantitative"}, "y": {"field": "sql", "type": "quantitative"}, "y2": {"field": "sqh"}}},
        {"data": {"name": "ov"}, "transform": [{"filter": "datum.m == 'Ni'"}], "mark": {"type": "area", "fill": "#8ba8a8", "opacity": 1},
         "encoding": {"x": {"field": "t", "type": "quantitative"}, "y": {"field": "lo", "type": "quantitative"}, "y2": {"field": "hi"}, "detail": {"field": "s", "type": "nominal"}}},
        {"data": {"name": "hist"}, "transform": [{"filter": "datum.m == 'Ni'"}], "mark": {"type": "line", "stroke": "#6f6f73", "strokeWidth": 4.2, "strokeJoin": "round"},
         "encoding": {"x": {"field": "t", "type": "quantitative"}, "y": {"field": "v", "type": "quantitative"}}},
        {"data": {"name": "scen"}, "transform": [{"filter": "datum.m == 'Ni'"}], "mark": {"type": "line", "stroke": "#87878a", "strokeWidth": 4.5, "strokeJoin": "round"},
         "encoding": {"x": {"field": "t", "type": "quantitative"}, "y": {"field": "sqm", "type": "quantitative"}}},
        {"data": {"name": "scen"}, "transform": [{"filter": "datum.m == 'Ni'"}], "mark": {"type": "line", "stroke": "#00968a", "strokeWidth": 4.5, "strokeJoin": "round"},
         "encoding": {"x": {"field": "t", "type": "quantitative"}, "y": {"field": "nzm", "type": "quantitative"}}},
        {"data": {"values": [{}]}, "mark": {"type": "rect", "fill": "#dcdcde", "stroke": "#8c8c8e", "strokeWidth": 2.5},
         "encoding": {"x": {"datum": 1972.25, "type": "quantitative"}, "x2": {"datum": 1984.02}, "y": {"datum": 110.2, "type": "quantitative"}, "y2": {"datum": 75.7}}},
        {"data": {"values": [{}]}, "mark": {"type": "text", "text": "Ni", "fontSize": 39, "color": "#8c8c8e", "align": "center", "baseline": "middle"},
         "encoding": {"x": {"datum": 1978.1, "type": "quantitative"}, "y": {"datum": 92.9, "type": "quantitative"}}},
        {"data": {"values": [{}]}, "mark": {"type": "text", "text": "Szenarien", "fontSize": 16, "color": "#1d9d8e", "align": "left", "baseline": "middle"},
         "encoding": {"x": {"datum": 2020.86, "type": "quantitative"}, "y": {"datum": 114.75, "type": "quantitative"}}}
      ]
    },
    {
      "width": 658, "height": 366,
      "title": {"text": "Kobalt", "anchor": "start", "frame": "group", "dx": 16, "offset": 8, "baseline": "alphabetic"},
      "layer": [
        {"data": {"values": [{}]}, "mark": {"type": "rect", "fill": "#a9d1cf", "opacity": 0.3},
         "encoding": {"x": {"datum": 2020, "type": "quantitative", "scale": {"domain": [1967.965, 2040.33], "nice": false, "zero": false},
           "axis": {"title": null, "values": [1970,1975,1980,1985,1990,1995,2000,2005,2010,2015,2020,2025,2030,2035,2040], "labelExpr": "datum.value === 2040 ? \"'40\" : (datum.value % 10 === 0 ? '' + datum.value : '')", "tickSize": 15, "tickOffset": -3.5, "labelPadding": 3, "grid": false, "labelFlush": false, "labelOverlap": false}},
           "x2": {"datum": 2040}}},
        {"data": {"name": "scen"}, "transform": [{"filter": "datum.m == 'Co'"}], "mark": {"type": "area", "fill": "#b0d4d4", "opacity": 1},
         "encoding": {"x": {"field": "t", "type": "quantitative"},
           "y": {"field": "nzl", "type": "quantitative", "scale": {"domain": [0, 700], "nice": false, "zero": false},
             "axis": {"title": null, "values": [0,175,350,525,700], "tickSize": -15, "labelPadding": 20, "domain": false, "grid": true, "labelFlush": false}},
           "y2": {"field": "nzh"}}},
        {"data": {"name": "scen"}, "transform": [{"filter": "datum.m == 'Co'"}], "mark": {"type": "area", "fill": "#c8c8ca", "opacity": 1},
         "encoding": {"x": {"field": "t", "type": "quantitative"}, "y": {"field": "sql", "type": "quantitative"}, "y2": {"field": "sqh"}}},
        {"data": {"name": "hist"}, "transform": [{"filter": "datum.m == 'Co'"}], "mark": {"type": "line", "stroke": "#00b4ec", "strokeWidth": 4.2, "strokeJoin": "round"},
         "encoding": {"x": {"field": "t", "type": "quantitative"}, "y": {"field": "v", "type": "quantitative"}}},
        {"data": {"name": "scen"}, "transform": [{"filter": "datum.m == 'Co'"}], "mark": {"type": "line", "stroke": "#87878a", "strokeWidth": 4.5, "strokeJoin": "round"},
         "encoding": {"x": {"field": "t", "type": "quantitative"}, "y": {"field": "sqm", "type": "quantitative"}}},
        {"data": {"name": "scen"}, "transform": [{"filter": "datum.m == 'Co'"}], "mark": {"type": "line", "stroke": "#00968a", "strokeWidth": 4.5, "strokeJoin": "round"},
         "encoding": {"x": {"field": "t", "type": "quantitative"}, "y": {"field": "nzm", "type": "quantitative"}}},
        {"data": {"values": [{}]}, "mark": {"type": "rect", "fill": "#cdeaf9", "stroke": "#00b4ec", "strokeWidth": 2.5},
         "encoding": {"x": {"datum": 1973.02, "type": "quantitative"}, "x2": {"datum": 1984.68}, "y": {"datum": 638.7, "type": "quantitative"}, "y2": {"datum": 435.4}}},
        {"data": {"values": [{}]}, "mark": {"type": "text", "text": "Co", "fontSize": 39, "color": "#00b4ec", "align": "center", "baseline": "middle"},
         "encoding": {"x": {"datum": 1978.85, "type": "quantitative"}, "y": {"datum": 535.7, "type": "quantitative"}}},
        {"data": {"values": [{}]}, "mark": {"type": "text", "text": "Szenarien", "fontSize": 16, "color": "#1d9d8e", "align": "left", "baseline": "middle"},
         "encoding": {"x": {"datum": 2020.86, "type": "quantitative"}, "y": {"datum": 671.3, "type": "quantitative"}}}
      ]
    },
    {
      "width": 658, "height": 366,
      "title": {"text": "Lithium", "anchor": "start", "frame": "group", "dx": 16, "offset": 8, "baseline": "alphabetic"},
      "layer": [
        {"data": {"values": [{}]}, "mark": {"type": "rect", "fill": "#a9d1cf", "opacity": 0.3},
         "encoding": {"x": {"datum": 2020, "type": "quantitative", "scale": {"domain": [1967.965, 2040.33], "nice": false, "zero": false},
           "axis": {"title": null, "values": [1970,1975,1980,1985,1990,1995,2000,2005,2010,2015,2020,2025,2030,2035,2040], "labelExpr": "datum.value === 2040 ? \"'40\" : (datum.value % 10 === 0 ? '' + datum.value : '')", "tickSize": 15, "tickOffset": -3.5, "labelPadding": 3, "grid": false, "labelFlush": false, "labelOverlap": false}},
           "x2": {"datum": 2040}}},
        {"data": {"name": "scen"}, "transform": [{"filter": "datum.m == 'Li'"}], "mark": {"type": "area", "fill": "#b0d4d4", "opacity": 1},
         "encoding": {"x": {"field": "t", "type": "quantitative"},
           "y": {"field": "nzl", "type": "quantitative", "scale": {"domain": [0, 24], "nice": false, "zero": false},
             "axis": {"title": null, "values": [0,6,12,18,24], "tickSize": -15, "labelPadding": 20, "domain": false, "grid": true, "labelFlush": false}},
           "y2": {"field": "nzh"}}},
        {"data": {"name": "scen"}, "transform": [{"filter": "datum.m == 'Li'"}], "mark": {"type": "area", "fill": "#c8c8ca", "opacity": 1},
         "encoding": {"x": {"field": "t", "type": "quantitative"}, "y": {"field": "sql", "type": "quantitative"}, "y2": {"field": "sqh"}}},
        {"data": {"name": "ov"}, "transform": [{"filter": "datum.m == 'Li'"}], "mark": {"type": "area", "fill": "#8ba8a8", "opacity": 1},
         "encoding": {"x": {"field": "t", "type": "quantitative"}, "y": {"field": "lo", "type": "quantitative"}, "y2": {"field": "hi"}, "detail": {"field": "s", "type": "nominal"}}},
        {"data": {"name": "hist"}, "transform": [{"filter": "datum.m == 'Li'"}], "mark": {"type": "line", "stroke": "#1e1e1e", "strokeWidth": 4.2, "strokeJoin": "round"},
         "encoding": {"x": {"field": "t", "type": "quantitative"}, "y": {"field": "v", "type": "quantitative"}}},
        {"data": {"name": "scen"}, "transform": [{"filter": "datum.m == 'Li'"}], "mark": {"type": "line", "stroke": "#87878a", "strokeWidth": 4.5, "strokeJoin": "round"},
         "encoding": {"x": {"field": "t", "type": "quantitative"}, "y": {"field": "sqm", "type": "quantitative"}}},
        {"data": {"name": "scen"}, "transform": [{"filter": "datum.m == 'Li'"}], "mark": {"type": "line", "stroke": "#00968a", "strokeWidth": 4.5, "strokeJoin": "round"},
         "encoding": {"x": {"field": "t", "type": "quantitative"}, "y": {"field": "nzm", "type": "quantitative"}}},
        {"data": {"values": [{}]}, "mark": {"type": "rect", "fill": "#bcbcbf", "stroke": "#222222", "strokeWidth": 2.5},
         "encoding": {"x": {"datum": 1972.25, "type": "quantitative"}, "x2": {"datum": 1984.02}, "y": {"datum": 21.9, "type": "quantitative"}, "y2": {"datum": 14.92}}},
        {"data": {"values": [{}]}, "mark": {"type": "text", "text": "Li", "fontSize": 39, "color": "#222222", "align": "center", "baseline": "middle"},
         "encoding": {"x": {"datum": 1978.1, "type": "quantitative"}, "y": {"datum": 18.37, "type": "quantitative"}}},
        {"data": {"values": [{}]}, "mark": {"type": "text", "text": "Szenarien", "fontSize": 16, "color": "#1d9d8e", "align": "left", "baseline": "middle"},
         "encoding": {"x": {"datum": 2020.86, "type": "quantitative"}, "y": {"datum": 23.02, "type": "quantitative"}}}
      ]
    }
  ]
}
